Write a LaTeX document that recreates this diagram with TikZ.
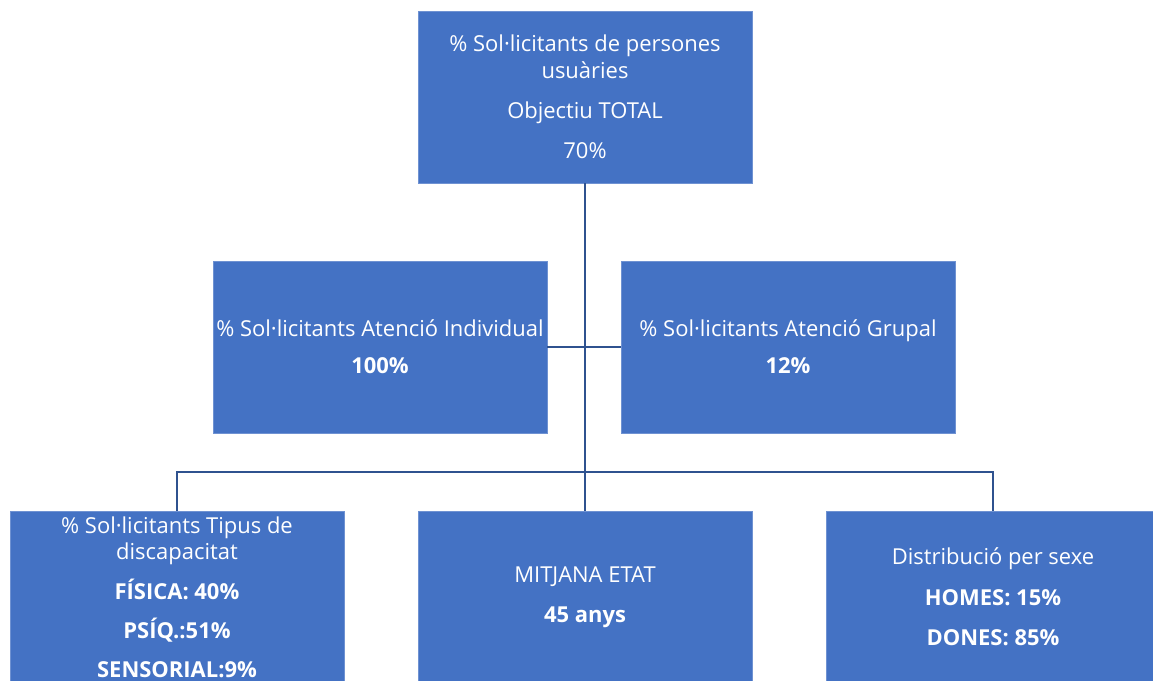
\documentclass[tikz,border=0pt]{standalone}
\usepackage{fontspec}
\setmainfont{Open Sans}
\definecolor{boxblue}{HTML}{4472C4}
\definecolor{boxedge}{HTML}{6F92D2}
\definecolor{linkblue}{HTML}{2F528F}

\begin{document}
\begin{tikzpicture}[x=0.02cm,y=-0.02cm]
    \tikzstyle{box}=[rectangle,draw=boxedge,fill=boxblue,text=white,align=center,inner sep=1pt,minimum width=6.68cm,minimum height=3.44cm,font=\fontsize{12.5}{15}\selectfont]
    \tikzstyle{link}=[draw=linkblue,line width=1.1pt]

    \clip (0,0) rectangle (1153,680);

    \node (top)[box] at (585,97) {\% Sol·licitants de persones\\usuàries\\[8pt]Objectiu TOTAL\\[8pt]70\%};

    \node (ind)[box] at (380,347) {\% Sol·licitants Atenció Individual\\[6pt]\textbf{100\%}};
    \node (grp)[box] at (788,347) {\% Sol·licitants Atenció Grupal\\[6pt]\textbf{12\%}};

    \node (disc)[box] at (177,597) {\% Sol·licitants Tipus de\\discapacitat\\[8pt]\textbf{FÍSICA: 40\%}\\[7pt]\textbf{PSÍQ.:51\%}\\[7pt]\textbf{SENSORIAL:9\%}};
    \node (age)[box] at (585,597) {MITJANA ETAT\\[8pt]\textbf{45 anys}};
    \node (sex)[box] at (993,597) {Distribució per sexe\\[8pt]\textbf{HOMES: 15\%}\\[8pt]\textbf{DONES: 85\%}};

    \coordinate (bus) at (585,472);

    \draw[link] (top.south) -- (age.north);
    \draw[link] (ind.east) -- (grp.west);
    \draw[link] (disc.north) |- (bus) -| (sex.north);
\end{tikzpicture}
\end{document}
